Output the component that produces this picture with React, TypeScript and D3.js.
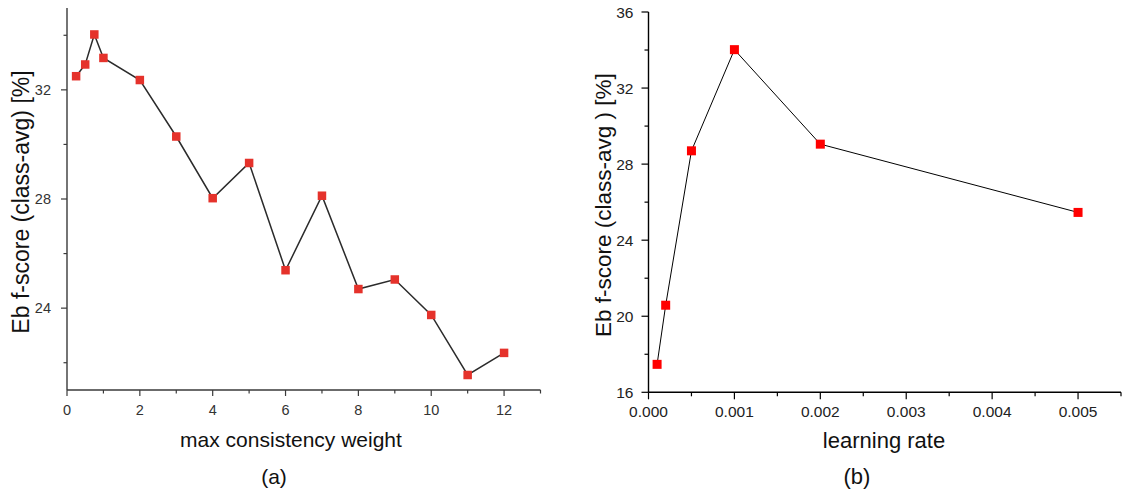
import React from 'react';
import * as d3 from 'd3';

// (a) max consistency weight
const weightsA = [0.25, 0.5, 0.75, 1, 2, 3, 4, 5, 6, 7, 8, 9, 10, 11, 12];
const scoresA = [32.5, 32.93, 34.03, 33.17, 32.36, 30.29, 28.03, 29.32, 25.39, 28.12, 24.7, 25.05, 23.75, 21.55, 22.36];
const xTicksA = [0, 2, 4, 6, 8, 10, 12];
const xMinorA = [1, 3, 5, 7, 9, 11, 13];
const yTicksA = [24, 28, 32];
const yMinorA = [22, 26, 30, 34];

// (b) learning rate
const ratesB = [0.0001, 0.0002, 0.0005, 0.001, 0.002, 0.005];
const scoresB = [17.47, 20.58, 28.7, 34.02, 29.05, 25.46];
const xTicksB = [0, 0.001, 0.002, 0.003, 0.004, 0.005];
const xMinorB = [0.0005, 0.0015, 0.0025, 0.0035, 0.0045, 0.0055];
const yTicksB = [16, 20, 24, 28, 32, 36];
const yMinorB = [18, 22, 26, 30, 34];

const font = 'Liberation Sans, Arial, sans-serif';

const Panel = (props) => {
  const {
    xs, ys, xDomain, yDomain, x0, x1, y0, y1, xTicks, yTicks, xMinor, yMinor,
    fmt, xLabel, caption, yLabel, yLabelX, yLabelSize, labelSize, tickSize,
    labelCx, captionCx, labelY, captionY, axisColor, lineColor, lineWidth,
    markerColor, markerSize, tickColor, majorLen, minorLen, yLabelGap,
  } = props;
  const x = d3.scaleLinear().domain(xDomain).range([x0, x1]);
  const y = d3.scaleLinear().domain(yDomain).range([y0, y1]);
  const line = d3.line().x((d) => x(d[0])).y((d) => y(d[1]));
  const pts = xs.map((v, i) => [v, ys[i]]);
  const midY = (y0 + y1) / 2;

  return (
    <g fontFamily={font}>
      <line x1={x0} x2={x0} y1={y0} y2={y1} stroke={axisColor} strokeWidth={1.4} />
      <line x1={x0} x2={x1} y1={y0} y2={y0} stroke={axisColor} strokeWidth={1.4} />
      {yTicks.map((t) => (
        <g key={'y' + t}>
          <line x1={x0 - majorLen} x2={x0} y1={y(t)} y2={y(t)} stroke={axisColor} strokeWidth={1.2} />
          <text x={x0 - yLabelGap} y={y(t)} dy="0.36em" textAnchor="end" fontSize={tickSize} fill={tickColor}>{t}</text>
        </g>
      ))}
      {yMinor.map((t) => (
        <line key={'ym' + t} x1={x0 - minorLen} x2={x0} y1={y(t)} y2={y(t)} stroke={axisColor} strokeWidth={1.2} />
      ))}
      {xTicks.map((t) => (
        <g key={'x' + t}>
          <line x1={x(t)} x2={x(t)} y1={y0} y2={y0 + majorLen} stroke={axisColor} strokeWidth={1.2} />
          <text x={x(t)} y={y0 + 25} textAnchor="middle" fontSize={tickSize} fill={tickColor}>{fmt(t)}</text>
        </g>
      ))}
      {xMinor.map((t) => (
        <line key={'xm' + t} x1={x(t)} x2={x(t)} y1={y0} y2={y0 + minorLen} stroke={axisColor} strokeWidth={1.2} />
      ))}
      <path d={line(pts)} fill="none" stroke={lineColor} strokeWidth={lineWidth} />
      {pts.map((p, i) => (
        <rect
          key={i}
          x={x(p[0]) - markerSize / 2}
          y={y(p[1]) - markerSize / 2}
          width={markerSize}
          height={markerSize}
          fill={markerColor}
        />
      ))}
      <text
        transform={`translate(${yLabelX},${midY + 3}) rotate(-90)`}
        textAnchor="middle"
        fontSize={yLabelSize}
        fill="#111"
      >
        {yLabel}
      </text>
      <text x={labelCx} y={labelY} textAnchor="middle" fontSize={labelSize} fill="#111">{xLabel}</text>
      <text x={captionCx} y={captionY} textAnchor="middle" fontSize={labelSize} fill="#111">{caption}</text>
    </g>
  );
};

const App = () => {
  return (
    <svg
      width={1123}
      height={492}
      style={{ position: 'absolute', left: 0, top: 0, background: '#fff' }}
    >
      <Panel
        xs={weightsA}
        ys={scoresA}
        xDomain={[0, 13]}
        yDomain={[21, 35]}
        x0={67}
        x1={540.5}
        y0={390}
        y1={8}
        xTicks={xTicksA}
        yTicks={yTicksA}
        xMinor={xMinorA}
        yMinor={yMinorA}
        fmt={(t) => String(t)}
        xLabel="max consistency weight"
        caption="(a)"
        yLabel="Eb f-score (class-avg) [%]"
        yLabelX={29}
        yLabelSize={23}
        labelSize={21}
        tickSize={14.5}
        labelCx={291}
        captionCx={274}
        labelY={447}
        captionY={484}
        axisColor="#3a3a3a"
        lineColor="#2b2b2b"
        lineWidth={1.5}
        markerColor="#e5322b"
        markerSize={8.5}
        tickColor="#333"
        majorLen={6}
        minorLen={3.5}
        yLabelGap={16}
      />
      <Panel
        xs={ratesB}
        ys={scoresB}
        xDomain={[0, 0.0055]}
        yDomain={[16, 36]}
        x0={648.5}
        x1={1121}
        y0={392.3}
        y1={12}
        xTicks={xTicksB}
        yTicks={yTicksB}
        xMinor={xMinorB}
        yMinor={yMinorB}
        fmt={d3.format('.3f')}
        xLabel="learning rate"
        caption="(b)"
        yLabel="Eb f-score (class-avg ) [%]"
        yLabelX={611}
        yLabelSize={22.5}
        labelSize={22}
        tickSize={15.5}
        labelCx={884}
        captionCx={857}
        labelY={448}
        captionY={484}
        axisColor="#000"
        lineColor="#000"
        lineWidth={1}
        markerColor="#ff0000"
        markerSize={9}
        tickColor="#222"
        majorLen={7}
        minorLen={4}
        yLabelGap={15}
      />
    </svg>
  );
};

export default App;
